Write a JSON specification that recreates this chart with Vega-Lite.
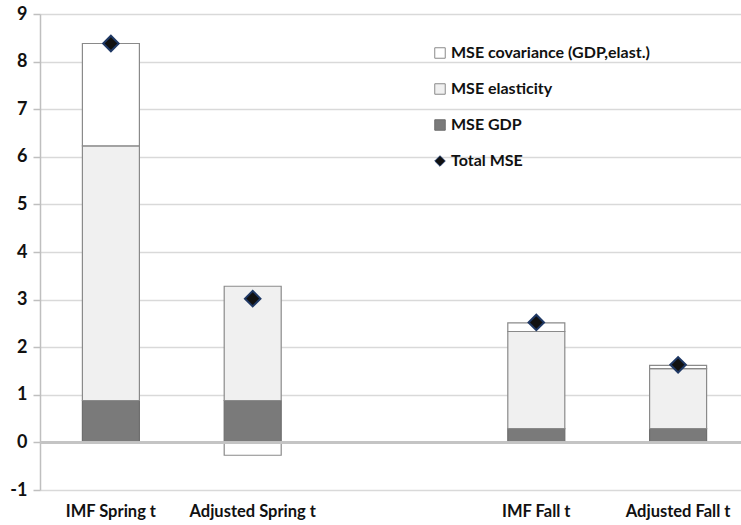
{
  "$schema": "https://vega.github.io/schema/vega-lite/v6.json",
  "width": 701,
  "height": 476,
  "autosize": {"type": "none"},
  "padding": {"left": 40, "top": 14, "right": 0, "bottom": 35},
  "background": "white",
  "config": {
    "font": "Lato",
    "view": {"stroke": null},
    "legend": {
      "orient": "none",
      "legendX": 392,
      "legendY": 31,
      "title": null,
      "labelFont": "Lato",
      "labelFontWeight": "bold",
      "labelFontSize": 16,
      "labelColor": "#111111",
      "symbolSize": 110,
      "symbolStrokeWidth": 1,
      "labelOffset": 3,
      "rowPadding": 20,
      "labelLimit": 300
    }
  },
  "data": {
    "values": [
      {"cat": "IMF Spring t", "series": "MSE GDP", "value": 0.88},
      {"cat": "IMF Spring t", "series": "MSE elasticity", "value": 5.35},
      {"cat": "IMF Spring t", "series": "MSE covariance (GDP,elast.)", "value": 2.15},
      {"cat": "IMF Spring t", "series": "Total MSE", "value": 8.38},
      {"cat": "Adjusted Spring t", "series": "MSE GDP", "value": 0.88},
      {"cat": "Adjusted Spring t", "series": "MSE elasticity", "value": 2.40},
      {"cat": "Adjusted Spring t", "series": "MSE covariance (GDP,elast.)", "value": -0.27},
      {"cat": "Adjusted Spring t", "series": "Total MSE", "value": 3.02},
      {"cat": "IMF Fall t", "series": "MSE GDP", "value": 0.29},
      {"cat": "IMF Fall t", "series": "MSE elasticity", "value": 2.04},
      {"cat": "IMF Fall t", "series": "MSE covariance (GDP,elast.)", "value": 0.18},
      {"cat": "IMF Fall t", "series": "Total MSE", "value": 2.52},
      {"cat": "Adjusted Fall t", "series": "MSE GDP", "value": 0.29},
      {"cat": "Adjusted Fall t", "series": "MSE elasticity", "value": 1.26},
      {"cat": "Adjusted Fall t", "series": "MSE covariance (GDP,elast.)", "value": 0.07},
      {"cat": "Adjusted Fall t", "series": "Total MSE", "value": 1.63}
    ]
  },
  "layer": [
    {
      "transform": [
        {"filter": "datum.series !== 'Total MSE'"},
        {"calculate": "indexof(['MSE GDP','MSE elasticity','MSE covariance (GDP,elast.)'], datum.series)", "as": "ord"}
      ],
      "mark": {"type": "bar", "strokeWidth": 1.2},
      "encoding": {
        "x": {
          "field": "cat",
          "type": "nominal",
          "sort": null,
          "scale": {
            "domain": ["IMF Spring t", "Adjusted Spring t", " ", "IMF Fall t", "Adjusted Fall t"],
            "range": [0, 709],
            "paddingInner": 0.598,
            "paddingOuter": 0.299
          },
          "axis": {
            "title": null,
            "domain": false,
            "ticks": false,
            "labelAngle": 0,
            "labelFontSize": 16.5,
            "labelFontWeight": "bold",
            "labelColor": "#111111",
            "labelPadding": 13
          }
        },
        "y": {
          "field": "value",
          "type": "quantitative",
          "scale": {"domain": [-1, 9], "nice": false},
          "axis": {
            "title": null,
            "values": [-1, 0, 1, 2, 3, 4, 5, 6, 7, 8, 9],
            "labelExpr": "datum.value < 0 ? '-' + abs(datum.value) : datum.label",
            "gridColor": "#d9d9d9",
            "gridWidth": 1.5,
            "domainColor": "#bfbfbf",
            "domainWidth": 1.5,
            "tickColor": "#bfbfbf",
            "tickSize": 7,
            "tickWidth": 1.5,
            "labelFontSize": 18,
            "labelFontWeight": "bold",
            "labelColor": "#111111",
            "labelPadding": 6
          }
        },
        "fill": {
          "field": "series",
          "type": "nominal",
          "scale": {
            "domain": ["MSE covariance (GDP,elast.)", "MSE elasticity", "MSE GDP", "Total MSE"],
            "range": ["#ffffff", "#f0f0f0", "#7a7a7a", "#111111"]
          }
        },
        "stroke": {
          "field": "series",
          "type": "nominal",
          "scale": {
            "domain": ["MSE covariance (GDP,elast.)", "MSE elasticity", "MSE GDP", "Total MSE"],
            "range": ["#8a8a8a", "#8a8a8a", "#6e6e6e", "#1f3864"]
          }
        },
        "order": {"field": "ord", "type": "quantitative"}
      }
    },
    {
      "mark": {"type": "rule", "color": "#c4c4c4", "strokeWidth": 1.5},
      "encoding": {"y": {"datum": 0, "type": "quantitative"}}
    },
    {
      "transform": [{"filter": "datum.series === 'Total MSE'"}],
      "mark": {"type": "point", "filled": true, "size": 240, "strokeWidth": 2, "opacity": 1},
      "encoding": {
        "x": {"field": "cat", "type": "nominal", "sort": null},
        "y": {"field": "value", "type": "quantitative"},
        "fill": {"field": "series", "type": "nominal"},
        "stroke": {"field": "series", "type": "nominal"},
        "shape": {
          "field": "series",
          "type": "nominal",
          "scale": {
            "domain": ["MSE covariance (GDP,elast.)", "MSE elasticity", "MSE GDP", "Total MSE"],
            "range": ["square", "square", "square", "diamond"]
          }
        }
      }
    }
  ]
}
